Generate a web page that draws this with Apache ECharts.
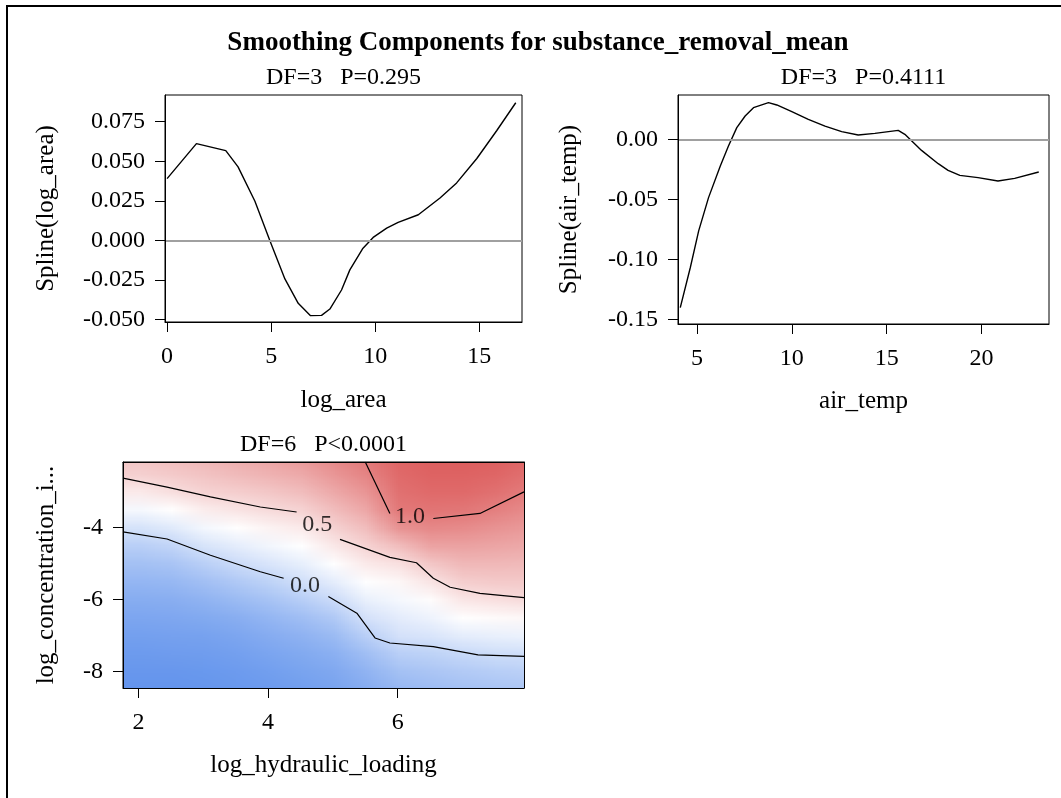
<!DOCTYPE html>
<html><head><meta charset="utf-8">
<script src="https://cdn.jsdelivr.net/npm/echarts@6/dist/echarts.min.js"></script>
<style>html,body{margin:0;padding:0;background:#fff}#c{width:1061px;height:798px}</style>
</head><body><div id="c"></div>
<script>
// ---------- data ----------
const mainTitle = 'Smoothing Components for substance_removal_mean';
const subTitles = ['DF=3   P=0.295', 'DF=3   P=0.4111', 'DF=6   P<0.0001'];

const logAreaX = [0, 1.41, 2.82, 3.41, 4.22, 4.94, 5.66, 6.30, 6.89, 7.42, 7.82, 8.38, 8.78, 9.39, 9.9, 10.55, 11.1, 12.07, 13.11, 13.91, 14.88, 15.84, 16.75];
const logAreaY = [0.039, 0.0611, 0.0567, 0.0464, 0.0247, -0.0002, -0.0243, -0.0397, -0.0475, -0.0473, -0.0433, -0.0313, -0.0186, -0.0053, 0.0019, 0.0078, 0.0114, 0.0162, 0.0268, 0.0363, 0.0517, 0.0694, 0.0869];

const airTempX = [4.12, 4.65, 5.09, 5.61, 6.23, 6.66, 7.1, 7.54, 7.98, 8.77, 9.21, 10.0, 10.87, 11.75, 12.63, 13.5, 14.38, 15.61, 15.96, 16.84, 17.72, 18.24, 18.86, 19.82, 20.87, 21.75, 23.02];
const airTempY = [-0.1403, -0.1069, -0.0763, -0.0486, -0.0222, -0.0055, 0.0098, 0.0195, 0.0264, 0.0306, 0.0287, 0.0231, 0.0167, 0.0111, 0.0064, 0.0036, 0.005, 0.0075, 0.0042, -0.0092, -0.0203, -0.0258, -0.03, -0.0319, -0.0347, -0.0325, -0.0272];

const logAreaTicks = [0, 5, 10, 15];
const splineAreaTicks = [-0.05, -0.025, 0, 0.025, 0.05, 0.075];
const airTempTicks = [5, 10, 15, 20];
const splineTempTicks = [-0.15, -0.10, -0.05, 0];
const hydroTicks = [2, 4, 6];
const concTicks = [-8, -6, -4];

// surface (cell centres): columns = log_hydraulic_loading, rows = log_concentration (top to bottom)
const hydroX = [2.0, 2.5, 3.0, 3.5, 4.0, 4.5, 5.0, 5.5, 6.0, 6.5, 7.0, 7.5, 8.0];
const concY = [-2.0, -2.5, -3.0, -3.5, -4.0, -4.5, -5.0, -5.5, -6.0, -6.5, -7.0, -7.5, -8.0, -8.5];
const surfaceZ = [
  [0.62, 0.66, 0.70, 0.75, 0.80, 0.86, 0.95, 1.03, 1.13, 1.16, 1.17, 1.16, 1.13],
  [0.55, 0.58, 0.62, 0.67, 0.71, 0.76, 0.86, 0.96, 1.10, 1.14, 1.14, 1.12, 1.07],
  [0.41, 0.47, 0.53, 0.56, 0.60, 0.65, 0.76, 0.87, 1.06, 1.10, 1.10, 1.06, 1.00],
  [0.24, 0.30, 0.39, 0.44, 0.49, 0.53, 0.65, 0.77, 1.02, 1.04, 1.03, 0.98, 0.92],
  [0.06, 0.12, 0.23, 0.30, 0.36, 0.41, 0.54, 0.65, 0.88, 0.94, 0.92, 0.88, 0.84],
  [-0.10, -0.05, 0.07, 0.15, 0.22, 0.29, 0.42, 0.53, 0.65, 0.79, 0.80, 0.78, 0.76],
  [-0.22, -0.19, -0.10, 0.00, 0.08, 0.16, 0.29, 0.41, 0.46, 0.60, 0.68, 0.68, 0.67],
  [-0.31, -0.29, -0.23, -0.15, -0.07, 0.03, 0.15, 0.29, 0.34, 0.44, 0.56, 0.58, 0.58],
  [-0.38, -0.37, -0.33, -0.27, -0.20, -0.11, 0.00, 0.17, 0.24, 0.31, 0.43, 0.46, 0.49],
  [-0.44, -0.43, -0.41, -0.37, -0.31, -0.24, -0.15, 0.05, 0.14, 0.20, 0.30, 0.32, 0.34],
  [-0.49, -0.48, -0.47, -0.44, -0.39, -0.34, -0.27, -0.10, 0.05, 0.08, 0.15, 0.17, 0.19],
  [-0.53, -0.52, -0.51, -0.49, -0.45, -0.41, -0.36, -0.24, -0.10, -0.07, -0.02, 0.02, 0.03],
  [-0.56, -0.56, -0.55, -0.53, -0.50, -0.46, -0.42, -0.33, -0.22, -0.18, -0.14, -0.11, -0.09],
  [-0.58, -0.58, -0.57, -0.55, -0.53, -0.50, -0.46, -0.39, -0.30, -0.26, -0.22, -0.19, -0.17]
];

// contour polylines (gaps where the labels sit)
const contour05a = [[1.76, -2.63], [2.44, -2.88], [3.11, -3.15], [3.88, -3.43], [4.44, -3.57]];
const contour05b = [[5.11, -4.33], [5.88, -4.83], [6.29, -4.98], [6.55, -5.41], [6.81, -5.66], [7.27, -5.83], [7.95, -5.95]];
const contour00a = [[1.76, -4.12], [2.44, -4.32], [3.11, -4.77], [3.88, -5.23], [4.24, -5.41]];
const contour00b = [[4.93, -5.92], [5.37, -6.38], [5.65, -7.07], [5.88, -7.21], [6.55, -7.31], [7.24, -7.54], [7.95, -7.58]];
const contour10a = [[5.5, -2.18], [5.88, -3.61]];
const contour10b = [[6.55, -3.75], [7.27, -3.61], [7.95, -3.01]];
const contourLabelText = ['0.0', '0.5', '1.0'];
const contourLabelX = [4.57, 4.76, 6.19];
const contourLabelY = [-5.63, -3.91, -3.69];

// ---------- layout ----------
const FONT = 'Liberation Serif';
const grids = [
  {left: 165, top: 95, width: 357, height: 227},
  {left: 678, top: 95, width: 371, height: 229},
  {left: 123, top: 462, width: 401, height: 226}
];

// ---------- surface image ----------
const zFlat = surfaceZ.flat();
const zMin = Math.min(...zFlat), zMax = Math.max(...zFlat), zMid = (zMin + zMax) / 2;
const cBlue = [100, 149, 237], cWhite = [255, 255, 255], cRed = [221, 93, 93];
function zColor(z) {
  let a, b, t;
  if (z <= zMid) { a = cBlue; b = cWhite; t = (z - zMin) / (zMid - zMin); }
  else { a = cWhite; b = cRed; t = (z - zMid) / (zMax - zMid); }
  t = Math.max(0, Math.min(1, t));
  return [0, 1, 2].map(i => Math.round(a[i] + (b[i] - a[i]) * t));
}
const cvs = document.createElement('canvas');
cvs.width = hydroX.length; cvs.height = concY.length;
const cctx = cvs.getContext('2d');
const imgData = cctx.createImageData(cvs.width, cvs.height);
for (let r = 0; r < concY.length; r++) {
  for (let c = 0; c < hydroX.length; c++) {
    const col = zColor(surfaceZ[r][c]);
    const k = (r * hydroX.length + c) * 4;
    imgData.data[k] = col[0]; imgData.data[k + 1] = col[1]; imgData.data[k + 2] = col[2]; imgData.data[k + 3] = 255;
  }
}
cctx.putImageData(imgData, 0, 0);
const halfX = (hydroX[1] - hydroX[0]) / 2, halfY = (concY[0] - concY[1]) / 2;
const imgExtent = [hydroX[0] - halfX, concY[0] + halfY, hydroX[hydroX.length - 1] + halfX, concY[concY.length - 1] - halfY];

// ---------- axes ----------
const tickStyle = {show: true, length: 10, lineStyle: {color: '#000', width: 1}};
const labelStyle = (m, fmt) => ({color: '#000', fontFamily: FONT, fontSize: 24, margin: m, formatter: fmt});
function xAx(gi, min, max, ticks, name, gap) {
  return {type: 'value', gridIndex: gi, min, max, z: 10,
    name, nameLocation: 'middle', nameGap: gap,
    nameTextStyle: {color: '#000', fontFamily: FONT, fontSize: 25},
    axisLine: {show: true, onZero: false, lineStyle: {color: '#000', width: 1}},
    axisTick: Object.assign({customValues: ticks}, tickStyle),
    axisLabel: Object.assign({customValues: ticks}, labelStyle(23, v => String(v))),
    splitLine: {show: false}};
}
function yAx(gi, min, max, ticks, dec, name, gap) {
  return {type: 'value', gridIndex: gi, min, max, z: 10,
    name, nameLocation: 'middle', nameGap: gap, nameRotate: 90,
    nameTextStyle: {color: '#000', fontFamily: FONT, fontSize: 25},
    axisLine: {show: true, onZero: false, lineStyle: {color: '#000', width: 1}},
    axisTick: Object.assign({customValues: ticks}, tickStyle),
    axisLabel: Object.assign({customValues: ticks}, labelStyle(20, v => dec === 0 ? String(v) : v.toFixed(dec))),
    splitLine: {show: false}};
}
const frameAx = (gi, pos, min, max) => ({type: 'value', gridIndex: gi, min, max, position: pos, z: 10,
  axisLine: {show: true, onZero: false, lineStyle: {color: '#000', width: 1}},
  axisTick: {show: false}, axisLabel: {show: false}, splitLine: {show: false}});

const xAxes = [
  xAx(0, -0.1, 17.05, logAreaTicks, 'log_area', 66),
  xAx(1, 4.0, 23.56, airTempTicks, 'air_temp', 65),
  xAx(2, 1.76, 7.95, hydroTicks, 'log_hydraulic_loading', 65),
  frameAx(2, 'top', 1.76, 7.95)
];
const yAxes = [
  yAx(0, -0.0515, 0.0918, splineAreaTicks, 3, 'Spline(log_area)', 106),
  yAx(1, -0.154, 0.037, splineTempTicks, 2, 'Spline(air_temp)', 96),
  yAx(2, -8.46, -2.18, concTicks, 0, 'log_concentration_i...', 64),
  frameAx(2, 'right', -8.46, -2.18)
];

const zeroLine = {silent: true, symbol: 'none', label: {show: false},
  lineStyle: {color: '#a0a0a0', width: 2, type: 'solid'}, data: [{yAxis: 0}]};
const contourSeries = [contour05a, contour05b, contour00a, contour00b, contour10a, contour10b].map(seg => ({
  type: 'line', xAxisIndex: 2, yAxisIndex: 2, data: seg, symbol: 'none', z: 5,
  lineStyle: {color: '#000', width: 1.2}, silent: true
}));

const option = {
  animation: false,
  backgroundColor: '#fff',
  grid: grids.map(g => Object.assign({show: true, borderColor: '#000', borderWidth: 1, backgroundColor: 'transparent'}, g)),
  xAxis: xAxes,
  yAxis: yAxes,
  series: [
    {type: 'line', xAxisIndex: 0, yAxisIndex: 0, data: logAreaX.map((x, i) => [x, logAreaY[i]]),
      symbol: 'none', lineStyle: {color: '#000', width: 1.4}, markLine: zeroLine, z: 3},
    {type: 'line', xAxisIndex: 1, yAxisIndex: 1, data: airTempX.map((x, i) => [x, airTempY[i]]),
      symbol: 'none', lineStyle: {color: '#000', width: 1.4}, markLine: zeroLine, z: 3},
    {type: 'custom', xAxisIndex: 2, yAxisIndex: 2, clip: true, z: 1, silent: true,
      encode: {x: [0, 2], y: [1, 3]},
      data: [imgExtent],
      renderItem: (params, api) => {
        const p0 = api.coord([api.value(0), api.value(1)]);
        const p1 = api.coord([api.value(2), api.value(3)]);
        return {type: 'image', style: {image: cvs, x: p0[0], y: p0[1], width: p1[0] - p0[0], height: p1[1] - p0[1]}};
      }},
    ...contourSeries,
    {type: 'scatter', xAxisIndex: 2, yAxisIndex: 2, symbolSize: 0, z: 6, silent: true,
      data: contourLabelX.map((x, i) => ({value: [x, contourLabelY[i]], name: contourLabelText[i]})),
      label: {show: true, position: 'inside', formatter: p => p.name, color: '#000', fontFamily: FONT, fontSize: 24}}
  ],
  graphic: [
    {type: 'rect', shape: {x: 7, y: 6, width: 1200, height: 1000}, style: {fill: 'none', stroke: '#000', lineWidth: 2}, z: 100},
    {type: 'text', x: 538, y: 43, style: {text: mainTitle, font: 'bold 27px "' + FONT + '"', fill: '#000', textAlign: 'center', textVerticalAlign: 'middle'}},
    ...grids.map((g, i) => ({type: 'text', x: g.left + g.width / 2, y: g.top - 17,
      style: {text: subTitles[i], font: '24px "' + FONT + '"', fill: '#000', textAlign: 'center', textVerticalAlign: 'middle'}}))
  ]
};
const chart = echarts.init(document.getElementById('c'), null, {renderer: 'canvas'});
chart.setOption(option);
</script></body></html>
